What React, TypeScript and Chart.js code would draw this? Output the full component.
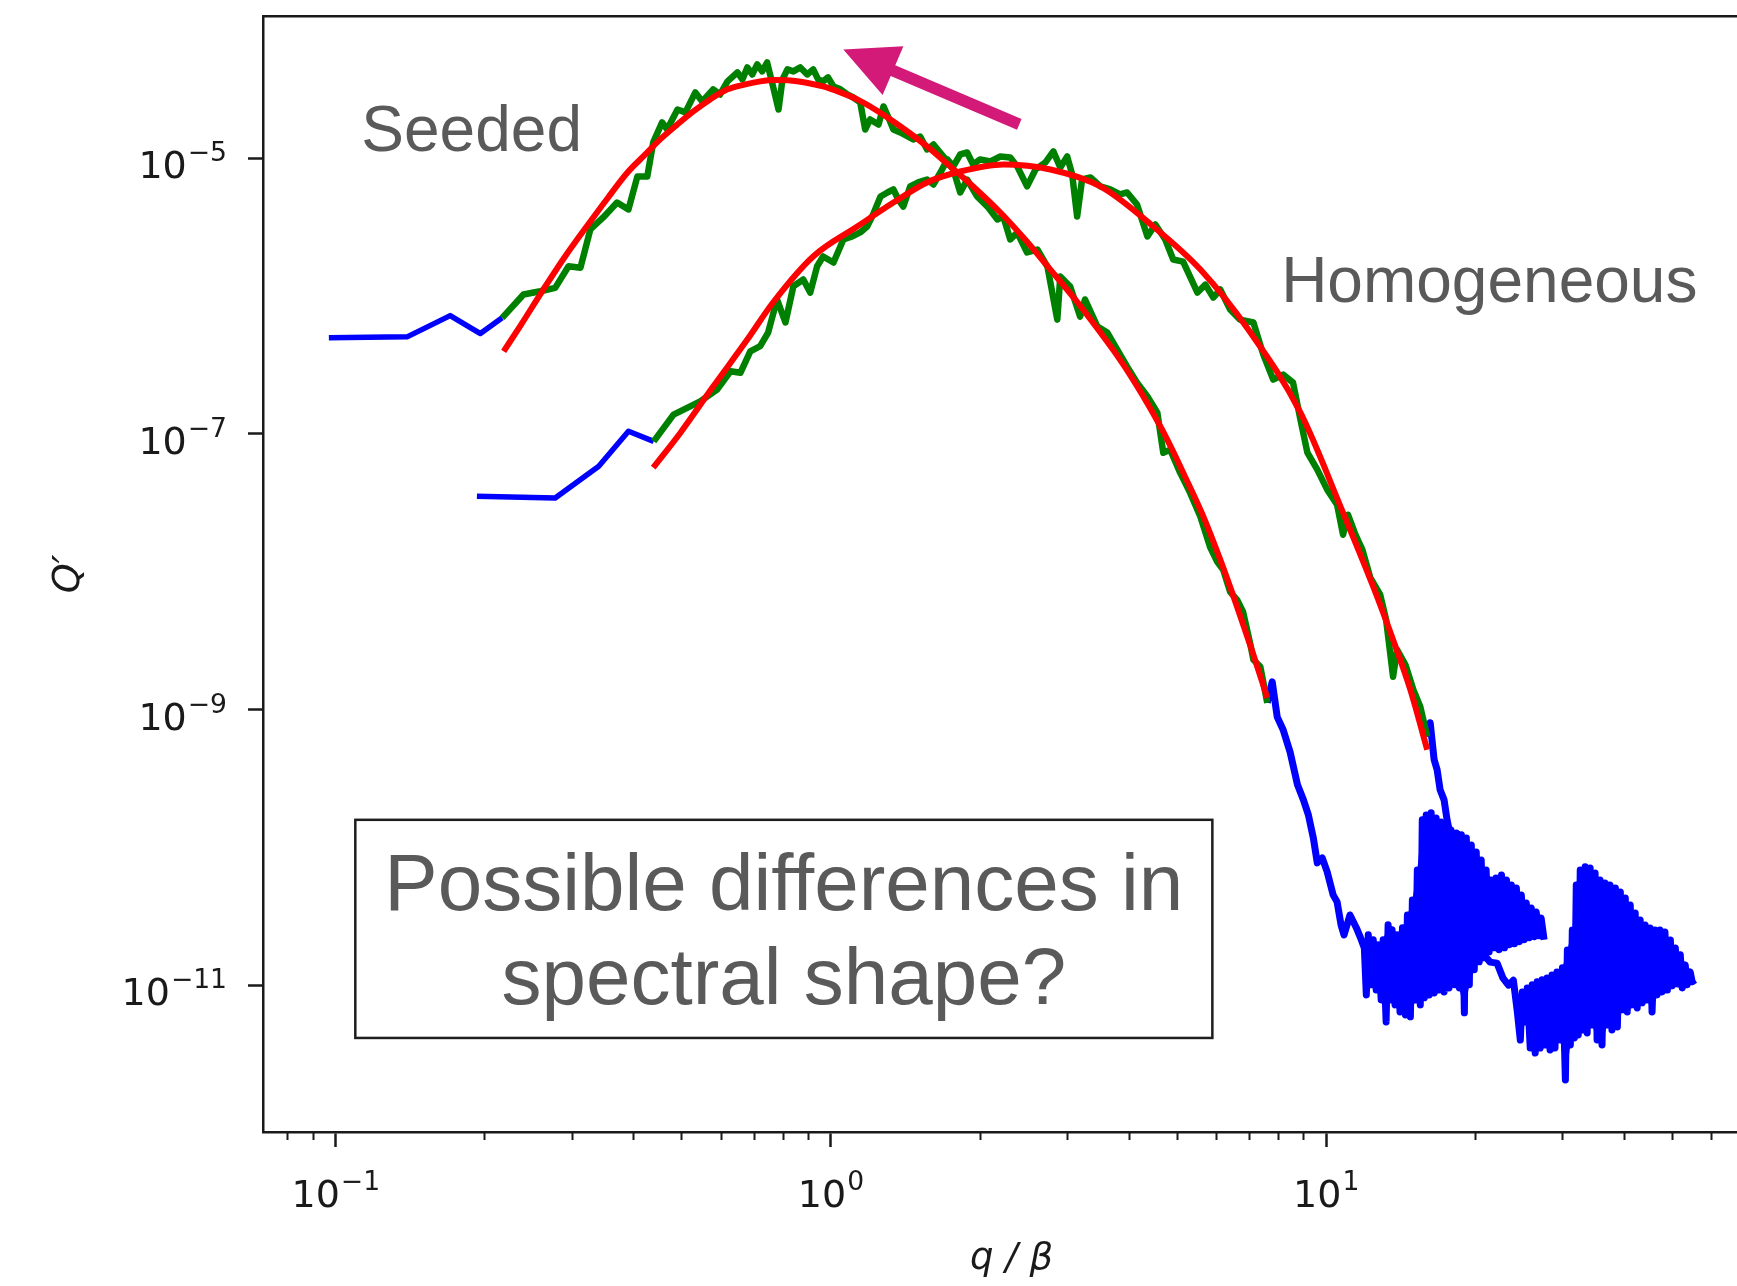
import React, { useEffect, useRef } from 'react';
import { Chart, registerables } from 'chart.js';

Chart.register(...registerables);

type Pair = [number, number];

// Every pair is [log10(q/β), log10(Q′)].
const seededLowQ: Pair[] = [
  [-1.014, -6.303], [-0.856, -6.296], [-0.769, -6.142], [-0.708, -6.272], [-0.664, -6.158],
];

const seededFitRange: Pair[] = [
  [-0.664, -6.158], [-0.621, -5.989], [-0.587, -5.965], [-0.557, -5.941], [-0.530, -5.784],
  [-0.506, -5.795], [-0.486, -5.517], [-0.460, -5.430], [-0.432, -5.322], [-0.409, -5.372],
  [-0.391, -5.133], [-0.371, -5.133], [-0.359, -4.886], [-0.341, -4.741], [-0.331, -4.792],
  [-0.310, -4.647], [-0.294, -4.668], [-0.274, -4.523], [-0.260, -4.589], [-0.238, -4.501],
  [-0.224, -4.538], [-0.209, -4.443], [-0.189, -4.378], [-0.179, -4.429], [-0.169, -4.342],
  [-0.159, -4.393], [-0.149, -4.320], [-0.139, -4.371], [-0.129, -4.306], [-0.117, -4.480],
  [-0.106, -4.647], [-0.098, -4.429], [-0.088, -4.356], [-0.076, -4.371], [-0.062, -4.342],
  [-0.048, -4.393], [-0.036, -4.356], [-0.026, -4.429], [-0.016, -4.443], [-0.006, -4.414],
  [0.005, -4.480], [0.019, -4.501], [0.033, -4.538], [0.045, -4.560], [0.059, -4.596],
  [0.069, -4.792], [0.079, -4.719], [0.096, -4.756], [0.106, -4.625], [0.116, -4.705],
  [0.126, -4.792], [0.140, -4.814], [0.166, -4.864], [0.180, -4.843], [0.194, -4.937],
  [0.207, -4.901], [0.227, -4.988], [0.247, -5.082], [0.261, -5.249], [0.275, -5.155],
  [0.295, -5.278], [0.316, -5.351], [0.336, -5.445], [0.348, -5.423], [0.362, -5.590],
  [0.376, -5.539], [0.396, -5.684], [0.417, -5.663], [0.437, -5.786], [0.457, -6.171],
  [0.463, -5.859], [0.483, -5.931], [0.503, -6.149], [0.513, -6.025], [0.538, -6.221],
  [0.558, -6.265], [0.578, -6.388], [0.598, -6.512], [0.618, -6.628], [0.639, -6.729],
  [0.659, -6.846], [0.671, -7.136], [0.685, -7.114], [0.705, -7.281], [0.725, -7.426],
  [0.746, -7.600], [0.766, -7.825], [0.780, -7.927], [0.792, -7.985], [0.806, -8.145],
  [0.820, -8.203], [0.832, -8.290], [0.847, -8.529], [0.853, -8.638], [0.867, -8.689],
  [0.881, -8.950],
];

const seededFit: Pair[] = [
  [-0.661, -6.401], [-0.627, -6.214], [-0.581, -5.953], [-0.537, -5.713], [-0.486, -5.459],
  [-0.450, -5.285], [-0.411, -5.104], [-0.375, -4.973], [-0.345, -4.864], [-0.310, -4.755],
  [-0.278, -4.661], [-0.244, -4.574], [-0.209, -4.501], [-0.173, -4.465], [-0.143, -4.443],
  [-0.113, -4.433], [-0.082, -4.436], [-0.052, -4.451], [-0.016, -4.480], [0.019, -4.523],
  [0.053, -4.574], [0.089, -4.647], [0.126, -4.734], [0.160, -4.821], [0.194, -4.915],
  [0.241, -5.060], [0.287, -5.205], [0.342, -5.394], [0.392, -5.590], [0.443, -5.808],
  [0.493, -6.025], [0.544, -6.265], [0.578, -6.432], [0.610, -6.606], [0.645, -6.816],
  [0.679, -7.041], [0.715, -7.310], [0.752, -7.600], [0.786, -7.912], [0.820, -8.253],
  [0.851, -8.580], [0.881, -8.914],
];

// Seeded high-q tail: the falling part, then the noisy floor (samples alternate high / low)
const seededTailDescent: Pair[] = [
  [0.881, -8.950], [0.891, -8.798], [0.901, -9.052], [0.913, -9.146], [0.927, -9.306],
  [0.942, -9.545], [0.954, -9.654], [0.964, -9.763], [0.974, -9.930], [0.982, -10.111],
  [0.992, -10.075], [1.002, -10.177], [1.014, -10.343], [1.022, -10.394], [1.030, -10.561],
  [1.036, -10.634], [1.048, -10.489], [1.061, -10.583], [1.071, -10.670],
];
const seededTailFloor: Pair[] = [
  [1.077, -10.728], [1.081, -11.069], [1.085, -10.632], [1.091, -10.995], [1.095, -10.668],
  [1.101, -11.033], [1.105, -10.705], [1.111, -11.105], [1.115, -10.668], [1.121, -11.265],
  [1.125, -10.559], [1.129, -11.105], [1.133, -10.596], [1.139, -11.141], [1.143, -10.632],
  [1.149, -11.192], [1.154, -10.582], [1.160, -11.214], [1.164, -10.489], [1.170, -11.228],
  [1.174, -10.380], [1.180, -11.105], [1.184, -10.162], [1.190, -11.141], [1.194, -9.799],
  [1.198, -11.090], [1.202, -9.763], [1.208, -11.069], [1.212, -9.748], [1.218, -11.054],
  [1.222, -9.785], [1.228, -11.033], [1.232, -9.814], [1.238, -11.047], [1.242, -9.843],
  [1.248, -11.018], [1.252, -9.872], [1.259, -10.995], [1.263, -9.894], [1.269, -11.018],
  [1.273, -9.908], [1.279, -11.199], [1.283, -9.930], [1.289, -10.995], [1.293, -9.981],
  [1.299, -10.886], [1.303, -10.032], [1.309, -10.829], [1.313, -10.090], [1.319, -10.800],
  [1.323, -10.162], [1.329, -10.756], [1.333, -10.235], [1.339, -10.727], [1.343, -10.220],
  [1.349, -10.741], [1.354, -10.199], [1.360, -10.727], [1.364, -10.235], [1.370, -10.705],
  [1.374, -10.271], [1.380, -10.698], [1.384, -10.293], [1.390, -10.683], [1.394, -10.344],
  [1.400, -10.668], [1.404, -10.402], [1.410, -10.654], [1.414, -10.438], [1.420, -10.647],
  [1.424, -10.467], [1.430, -10.640], [1.434, -10.511], [1.440, -10.668],
];

const homogeneousLowQ: Pair[] = [
  [-0.715, -7.453], [-0.557, -7.465], [-0.469, -7.235], [-0.409, -6.981], [-0.358, -7.054],
];

const homogeneousFitRange: Pair[] = [
  [-0.358, -7.054], [-0.318, -6.860], [-0.264, -6.764], [-0.230, -6.679], [-0.203, -6.546],
  [-0.183, -6.557], [-0.163, -6.401], [-0.143, -6.364], [-0.127, -6.265], [-0.109, -6.025],
  [-0.092, -6.192], [-0.076, -5.929], [-0.056, -5.880], [-0.042, -5.975], [-0.028, -5.784],
  [-0.016, -5.713], [0.005, -5.757], [0.025, -5.590], [0.043, -5.568], [0.059, -5.539],
  [0.073, -5.496], [0.085, -5.409], [0.100, -5.278], [0.114, -5.249], [0.126, -5.227],
  [0.136, -5.300], [0.146, -5.351], [0.160, -5.205], [0.176, -5.176], [0.194, -5.155],
  [0.207, -5.191], [0.221, -5.104], [0.235, -5.009], [0.247, -5.060], [0.261, -4.973],
  [0.275, -4.959], [0.287, -5.046], [0.301, -5.009], [0.322, -5.024], [0.342, -4.988],
  [0.362, -4.995], [0.376, -5.060], [0.396, -5.205], [0.413, -5.082], [0.433, -5.031],
  [0.449, -4.951], [0.463, -5.068], [0.477, -4.988], [0.487, -5.118], [0.497, -5.423],
  [0.507, -5.155], [0.524, -5.140], [0.544, -5.205], [0.564, -5.227], [0.584, -5.263],
  [0.598, -5.249], [0.618, -5.336], [0.639, -5.568], [0.655, -5.481], [0.675, -5.590],
  [0.691, -5.735], [0.711, -5.750], [0.740, -5.975], [0.756, -5.917], [0.772, -6.011],
  [0.786, -5.953], [0.806, -6.098], [0.826, -6.171], [0.853, -6.192], [0.873, -6.425],
  [0.893, -6.606], [0.913, -6.570], [0.933, -6.628], [0.948, -6.896], [0.962, -7.136],
  [0.982, -7.259], [1.002, -7.404], [1.022, -7.513], [1.034, -7.731], [1.044, -7.586],
  [1.059, -7.731], [1.073, -7.840], [1.089, -8.043], [1.109, -8.166], [1.121, -8.348],
  [1.135, -8.761], [1.143, -8.565], [1.160, -8.674], [1.176, -8.856], [1.190, -8.979],
  [1.204, -9.197],
];

const homogeneousFit: Pair[] = [
  [-0.359, -7.245], [-0.304, -6.991], [-0.238, -6.657], [-0.169, -6.316], [-0.117, -6.047],
  [-0.036, -5.713], [0.053, -5.496], [0.126, -5.322], [0.194, -5.176], [0.261, -5.097],
  [0.348, -5.046], [0.443, -5.082], [0.544, -5.205], [0.651, -5.496], [0.746, -5.808],
  [0.847, -6.265], [0.948, -6.846], [1.034, -7.571], [1.095, -8.108], [1.135, -8.493],
  [1.170, -8.856], [1.204, -9.291],
];

// Homogeneous high-q tail: the falling part, then the noisy floor (samples alternate low / high)
const homogeneousTailDescent: Pair[] = [
  [1.204, -9.197], [1.210, -9.095], [1.218, -9.364], [1.224, -9.436], [1.230, -9.581],
  [1.238, -9.654], [1.244, -9.799], [1.261, -10.089], [1.281, -10.380], [1.295, -10.598],
  [1.305, -10.729], [1.319, -10.780], [1.331, -10.831], [1.345, -10.838], [1.357, -10.947],
  [1.368, -10.998], [1.378, -10.962], [1.386, -11.194],
];
const homogeneousTailFloor: Pair[] = [
  [1.392, -11.396], [1.396, -11.047], [1.402, -11.265], [1.406, -11.018], [1.412, -11.454],
  [1.416, -10.995], [1.422, -11.490], [1.426, -10.973], [1.432, -11.454], [1.436, -10.959],
  [1.442, -11.432], [1.446, -10.946], [1.452, -11.468], [1.456, -10.924], [1.462, -11.454],
  [1.466, -10.902], [1.473, -11.396], [1.477, -10.872], [1.483, -11.686], [1.487, -10.743],
  [1.493, -11.432], [1.497, -10.598], [1.501, -11.381], [1.505, -10.271], [1.509, -11.359],
  [1.513, -10.162], [1.517, -11.323], [1.523, -10.140], [1.527, -11.345], [1.533, -10.148],
  [1.537, -11.287], [1.543, -10.184], [1.547, -11.396], [1.553, -10.235], [1.557, -11.432],
  [1.563, -10.257], [1.567, -11.287], [1.573, -10.271], [1.577, -11.323], [1.584, -10.293],
  [1.588, -11.301], [1.594, -10.322], [1.598, -11.177], [1.604, -10.366], [1.608, -11.192],
  [1.614, -10.417], [1.618, -11.141], [1.624, -10.475], [1.628, -11.163], [1.634, -10.525],
  [1.638, -11.126], [1.644, -10.562], [1.648, -11.105], [1.654, -10.584], [1.658, -11.192],
  [1.664, -10.598], [1.668, -11.069], [1.674, -10.598], [1.678, -11.047], [1.684, -10.612],
  [1.689, -11.033], [1.695, -10.670], [1.699, -11.003], [1.705, -10.728], [1.709, -10.989],
  [1.715, -10.778], [1.719, -11.018], [1.725, -10.851], [1.729, -10.995], [1.735, -10.902],
  [1.739, -10.973], [1.745, -10.959],
];

// Axis ticks: major ticks carry labels "10^exponent"
const xMajorTicks = [0.1, 1, 10];
const xMajorExponents = ['−1', '0', '1'];
const xMinorTicks = [0.08, 0.09, 0.2, 0.3, 0.4, 0.5, 0.6, 0.7, 0.8, 0.9, 2, 3, 4, 5, 6, 7, 8, 9, 20, 30, 40, 50, 60, 70];
const yMajorTicks = [1e-11, 1e-9, 1e-7, 1e-5];
const yMajorExponents = ['−11', '−9', '−7', '−5'];
const TICK_BASE = '10';

const X_MIN = 10 ** -1.147;
const X_MAX = 10 ** 1.876;
const Y_MIN = 10 ** -12.063;
const Y_MAX = 10 ** -3.969;

const CANVAS_W = 1760;
const CANVAS_H = 1286;

// Annotations (anchored in data space)
const seededNote = { text: 'Seeded', q: 0.1126, Q: 1.118e-5 };
const homogeneousNote = { text: 'Homogeneous', q: 8.11, Q: 9.12e-7 };
const boxLines = ['Possible differences in', 'spectral shape?'];
const boxArea = { qLeft: 0.1095, qRight: 5.89, QTop: 1.589e-10, QBottom: 4.16e-12 };
const boxBaselines = [3.53e-11, 7.35e-12];
const arrow = { fromQ: 2.4, fromV: 1.757e-5, toQ: 1.059, toV: 6.15e-5 };

const INK = '#1a1a1a';
const NOTE = '#5a5a5a';
const BLUE = '#0000ff';
const TICK_FONT = 38;
const SUP_FONT = 26.6;
const FONT_FAMILY = '"DejaVu Sans", sans-serif';

const toPoints = (pairs: Pair[]) => pairs.map(([lx, ly]) => ({ x: 10 ** lx, y: 10 ** ly }));
const everyOther = (pairs: Pair[], parity: number) => pairs.filter((_, i) => i % 2 === parity);

// Draws the "10^n" tick labels for the major ticks of the x and y scales.
const powerLabelPlugin = {
  id: 'powerLabels',
  afterDraw(chart: any) {
    const { ctx } = chart;
    const xs = chart.scales.x;
    const ys = chart.scales.y;
    ctx.save();
    ctx.fillStyle = INK;
    ctx.textBaseline = 'alphabetic';
    ctx.textAlign = 'left';
    const measure = (text: string, size: number) => {
      ctx.font = `${size}px ${FONT_FAMILY}`;
      return ctx.measureText(text).width;
    };
    const wBase = measure(TICK_BASE, TICK_FONT);
    const draw = (exp: string, left: number, baseline: number) => {
      ctx.font = `${TICK_FONT}px ${FONT_FAMILY}`;
      ctx.fillText(TICK_BASE, left, baseline);
      ctx.font = `${SUP_FONT}px ${FONT_FAMILY}`;
      ctx.fillText(exp, left + wBase + 1, baseline - 17);
    };

    xs.ticks.forEach((t: any, i: number) => {
      const exp = xMajorExponents[i];
      const total = wBase + 1 + measure(exp, SUP_FONT);
      const cx = xs.getPixelForValue(t.value);
      draw(exp, cx - total / 2, xs.top + 75);
    });
    ys.ticks.forEach((t: any, i: number) => {
      const exp = yMajorExponents[i];
      const total = wBase + 1 + measure(exp, SUP_FONT);
      const cy = ys.getPixelForValue(t.value);
      draw(exp, ys.right - 36 - total, cy + 20);
    });
    ctx.restore();
  },
};

const annotationPlugin = {
  id: 'slideAnnotations',
  afterDraw(chart: any) {
    const { ctx } = chart;
    const xs = chart.scales.x;
    const ys = chart.scales.y;
    const px = (v: number) => xs.getPixelForValue(v);
    const py = (v: number) => ys.getPixelForValue(v);
    ctx.save();
    ctx.fillStyle = NOTE;
    ctx.textBaseline = 'alphabetic';
    ctx.textAlign = 'left';
    ctx.font = '64px "Liberation Sans", Arial, sans-serif';
    ctx.fillText(seededNote.text, px(seededNote.q), py(seededNote.Q));
    ctx.fillText(homogeneousNote.text, px(homogeneousNote.q), py(homogeneousNote.Q));

    const bl = px(boxArea.qLeft);
    const br = px(boxArea.qRight);
    const bt = py(boxArea.QTop);
    const bb = py(boxArea.QBottom);
    ctx.strokeStyle = '#1e1e1e';
    ctx.lineWidth = 2.5;
    ctx.strokeRect(bl, bt, br - bl, bb - bt);
    ctx.textAlign = 'center';
    ctx.font = '80px "Liberation Sans", Arial, sans-serif';
    const cx = (bl + br) / 2;
    boxLines.forEach((line, i) => ctx.fillText(line, cx, py(boxBaselines[i])));

    const ax = px(arrow.fromQ);
    const ay = py(arrow.fromV);
    const bx = px(arrow.toQ);
    const by = py(arrow.toV);
    const dx = bx - ax;
    const dy = by - ay;
    const len = Math.hypot(dx, dy);
    const ux = dx / len;
    const uy = dy / len;
    const nx = -uy;
    const ny = ux;
    const headLen = 54;
    const headHalf = 26.5;
    const shaftHalf = 5.8;
    const hx = bx - ux * headLen;
    const hy = by - uy * headLen;
    ctx.fillStyle = '#d31a78';
    ctx.beginPath();
    ctx.moveTo(ax + nx * shaftHalf, ay + ny * shaftHalf);
    ctx.lineTo(hx + nx * shaftHalf, hy + ny * shaftHalf);
    ctx.lineTo(hx + nx * headHalf, hy + ny * headHalf);
    ctx.lineTo(bx, by);
    ctx.lineTo(hx - nx * headHalf, hy - ny * headHalf);
    ctx.lineTo(hx - nx * shaftHalf, hy - ny * shaftHalf);
    ctx.lineTo(ax - nx * shaftHalf, ay - ny * shaftHalf);
    ctx.closePath();
    ctx.fill();
    ctx.restore();
  },
};

export default function App() {
  const canvasRef = useRef<HTMLCanvasElement | null>(null);

  useEffect(() => {
    document.documentElement.style.overflow = 'hidden';
    document.body.style.overflow = 'hidden';
    const canvas = canvasRef.current;
    if (!canvas) return;

    const line = (label: string, pairs: Pair[], color: string, width: number, smooth = false) => ({
      label,
      data: toPoints(pairs),
      borderColor: color,
      backgroundColor: color,
      borderWidth: width,
      pointRadius: 0,
      fill: false as any,
      borderJoinStyle: 'round' as const,
      borderCapStyle: 'butt' as const,
      tension: 0,
      cubicInterpolationMode: smooth ? ('monotone' as const) : ('default' as const),
      xAxisID: 'x',
      yAxisID: 'y',
    });
    // Solid body of a noisy floor: area between its alternate samples
    const floorEdge = (label: string, pairs: Pair[], parity: number, fillToNext: boolean) => ({
      ...line(label, everyOther(pairs, parity), 'rgba(0,0,255,0)', 1),
      backgroundColor: BLUE,
      fill: fillToNext ? '+1' : false,
    });

    const chart = new Chart(canvas, {
      type: 'line',
      data: {
        datasets: [
          line('Seeded fit', seededFit, '#ff0000', 6, true),
          line('Homogeneous fit', homogeneousFit, '#ff0000', 6, true),
          line('Seeded (fit range)', seededFitRange, '#008000', 6.5),
          line('Homogeneous (fit range)', homogeneousFitRange, '#008000', 6.5),
          line('Seeded (low q)', seededLowQ, BLUE, 5.5),
          line('Seeded (high q)', [...seededTailDescent, ...seededTailFloor], BLUE, 7),
          line('Homogeneous (low q)', homogeneousLowQ, BLUE, 5.5),
          line('Homogeneous (high q)', [...homogeneousTailDescent, ...homogeneousTailFloor], BLUE, 7),
          floorEdge('Seeded floor A', seededTailFloor, 0, true),
          floorEdge('Seeded floor B', seededTailFloor, 1, false),
          floorEdge('Homogeneous floor A', homogeneousTailFloor, 0, true),
          floorEdge('Homogeneous floor B', homogeneousTailFloor, 1, false),
        ],
      },
      options: {
        animation: false,
        responsive: false,
        devicePixelRatio: 1,
        events: [],
        layout: { padding: 0 },
        plugins: {
          legend: { display: false },
          tooltip: { enabled: false },
          title: { display: false },
          filler: { propagate: false },
        },
        scales: {
          x: {
            type: 'logarithmic',
            position: 'bottom',
            weight: 1,
            min: X_MIN,
            max: X_MAX,
            afterBuildTicks: (s: any) => {
              s.ticks = xMajorTicks.map((value) => ({ value }));
            },
            afterFit: (s: any) => {
              s.height = 154;
              s.paddingLeft = 0;
              s.paddingRight = 0;
            },
            ticks: { display: false, autoSkip: false },
            grid: { drawOnChartArea: false, drawTicks: true, tickLength: 15, tickWidth: 2.5, tickColor: INK },
            border: { display: true, color: INK, width: 2.5 },
            title: {
              display: true,
              text: 'q / β',
              color: INK,
              font: { family: FONT_FAMILY, size: 37, style: 'italic' },
              padding: { top: 0, bottom: 4 },
            },
          },
          xMinor: {
            type: 'logarithmic',
            position: 'bottom',
            weight: 0,
            min: X_MIN,
            max: X_MAX,
            afterBuildTicks: (s: any) => {
              s.ticks = xMinorTicks.map((value) => ({ value }));
            },
            afterFit: (s: any) => {
              s.height = 0;
              s.paddingLeft = 0;
              s.paddingRight = 0;
            },
            ticks: { display: false, autoSkip: false },
            grid: { drawOnChartArea: false, drawTicks: true, tickLength: 8, tickWidth: 2, tickColor: INK },
            border: { display: false },
          },
          xTop: {
            type: 'linear',
            position: 'top',
            min: 0,
            max: 1,
            afterFit: (s: any) => {
              s.height = 16;
              s.paddingLeft = 0;
              s.paddingRight = 0;
            },
            ticks: { display: false },
            grid: { display: false, drawTicks: false },
            border: { display: true, color: INK, width: 2.5 },
          },
          y: {
            type: 'logarithmic',
            position: 'left',
            min: Y_MIN,
            max: Y_MAX,
            afterBuildTicks: (s: any) => {
              s.ticks = yMajorTicks.map((value) => ({ value }));
            },
            afterFit: (s: any) => {
              s.width = 263;
              s.paddingTop = 0;
              s.paddingBottom = 0;
            },
            ticks: { display: false, autoSkip: false },
            grid: { drawOnChartArea: false, drawTicks: true, tickLength: 15, tickWidth: 2.5, tickColor: INK },
            border: { display: true, color: INK, width: 2.5 },
            title: {
              display: true,
              text: 'Q′',
              color: INK,
              font: { family: FONT_FAMILY, size: 38, style: 'italic' },
              padding: { top: 46, bottom: 0 },
            },
          },
        },
      } as any,
      plugins: [powerLabelPlugin, annotationPlugin],
    });

    return () => {
      chart.destroy();
    };
  }, []);

  return (
    <div style={{ position: 'fixed', left: 0, top: 0, width: CANVAS_W, height: CANVAS_H, background: '#fff' }}>
      <canvas ref={canvasRef} width={CANVAS_W} height={CANVAS_H} style={{ display: 'block' }} />
    </div>
  );
}
